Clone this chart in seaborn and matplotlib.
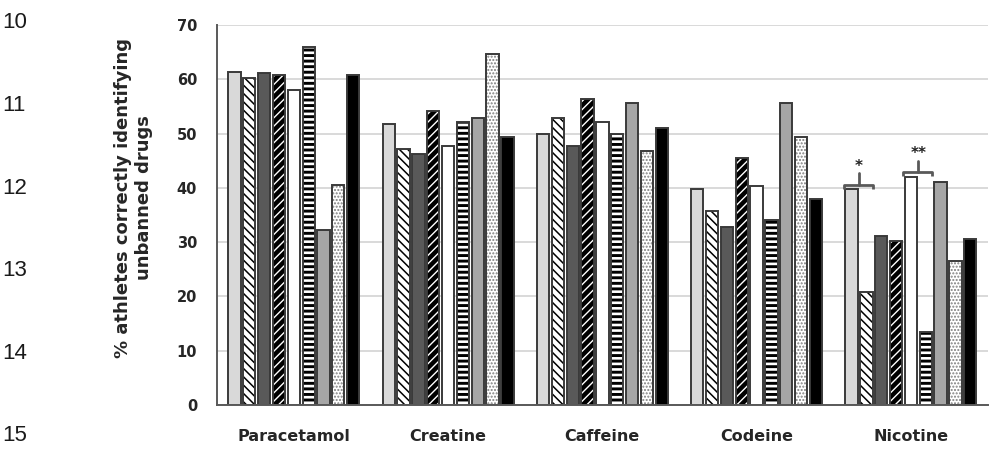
import numpy as np
import pandas as pd
import matplotlib
matplotlib.use("Agg")
import matplotlib.pyplot as plt
from matplotlib.patches import Rectangle
import seaborn as sns

# ---- data -----------------------------------------------------------------
drugs = ["Paracetamol", "Creatine", "Caffeine", "Codeine", "Nicotine"]
groups = ["G1", "G2", "G3", "G4", "G5", "G6", "G7", "G8", "G9"]

g1 = [61.4, 51.7, 50.0, 39.8, 39.7]
g2 = [60.2, 47.1, 52.8, 35.7, 20.8]
g3 = [61.1, 46.2, 47.7, 32.8, 31.2]
g4 = [60.8, 54.2, 56.4, 45.5, 30.3]
g5 = [58.0, 47.7, 52.2, 40.4, 42.0]
g6 = [65.9, 52.2, 50.0, 34.1, 13.4]
g7 = [32.2, 52.8, 55.7, 55.7, 41.0]
g8 = [40.5, 64.7, 46.8, 49.4, 26.5]
g9 = [60.8, 49.4, 51.0, 37.9, 30.6]

y_ticks = [0, 10, 20, 30, 40, 50, 60, 70]
y_label = "% athletes correctly identifying\nunbanned drugs"
line_numbers = ["10", "11", "12", "13", "14", "15"]

# significance marks in the Nicotine group: (first bar, second bar, label)
sig_marks = [(0, 1, "*"), (4, 5, "**")]

series = [g1, g2, g3, g4, g5, g6, g7, g8, g9]
df = pd.DataFrame({
    "drug": np.repeat([drugs], len(groups), axis=0).ravel(),
    "group": np.repeat(groups, len(drugs)),
    "pct": np.concatenate(series),
})

# fill colour, hatch pattern, hatch colour, hatch line width
styles = [
    ("#d9d9d9", None, None, 1.0),
    ("white", "\\\\\\\\", "black", 1.1),
    ("#595959", None, None, 1.0),
    ("black", "////", "white", 1.0),
    ("white", None, None, 1.0),
    ("black", "---", "white", 1.9),
    ("#a6a6a6", None, None, 1.0),
    ("white", ".....", "#7f7f7f", 1.0),
    ("black", None, None, 1.0),
]

# ---- figure -----------------------------------------------------------------
sns.set_theme(style="white")
plt.rcParams["font.family"] = ["DejaVu Sans"]

fig = plt.figure(figsize=(9.94, 4.61), dpi=100)
ax = fig.add_axes([0.218, 0.1215, 0.776, 0.8243])

sns.barplot(
    data=df, x="drug", y="pct", hue="group", order=drugs, hue_order=groups,
    palette=[s[0] for s in styles], width=0.865, gap=0.17,
    linewidth=0, saturation=1, errorbar=None, legend=False, ax=ax,
)

outline = "#3a3a3a"
for cont, (face, hatch, hcol, hlw) in zip(ax.containers, styles):
    for p in cont.patches:
        p.set_facecolor(face)
        if hatch:
            p.set_hatch(hatch)
            p.set_edgecolor(hcol)
            if hasattr(p, "set_hatch_linewidth"):
                p.set_hatch_linewidth(hlw)
        p.set_linewidth(0)
        ax.add_patch(Rectangle(p.get_xy(), p.get_width(), p.get_height(),
                               fill=False, edgecolor=outline, linewidth=1.4,
                               zorder=p.get_zorder() + 0.1))

# brackets with significance stars above the Nicotine bars
gi = drugs.index("Nicotine")
brace_col = "#595959"
for a, b, label in sig_marks:
    pa = ax.containers[a].patches[gi]
    pb = ax.containers[b].patches[gi]
    x0 = pa.get_x() - 0.15 * pa.get_width()
    x1 = pb.get_x() + pb.get_width() * 1.0
    top = pa.get_height()
    y_line = top + 0.9
    xm = (pa.get_x() + pa.get_width() + pb.get_x()) / 2
    ax.plot([x0, x0, x1, x1], [top + 0.1, y_line, y_line, top + 0.1],
            color=brace_col, lw=2, solid_capstyle="butt", zorder=5)
    ax.plot([xm, xm], [y_line, y_line + 2.1], color=brace_col, lw=2, zorder=5)
    ax.text(xm, y_line + 3.4, label, ha="center", va="center",
            fontsize=11, fontweight="bold", color="#222222")

# ---- axes styling ---------------------------------------------------------
ax.set_ylim(0, 70)
ax.set_xlim(-0.5, len(drugs) - 0.5)
ax.set_yticks(y_ticks)
ax.set_yticklabels([str(t) for t in y_ticks], fontsize=10.5, fontweight="bold",
                   color="#262626")
ax.set_xticks(range(len(drugs)))
ax.set_xticklabels(drugs, fontsize=11.5, fontweight="bold", color="#262626")
ax.tick_params(axis="x", length=0, pad=17)
ax.tick_params(axis="y", length=0, pad=14)
ax.set_xlabel("")
ax.set_ylabel(y_label, fontsize=13, fontweight="bold", color="#262626",
              linespacing=1.25)
ax.yaxis.set_label_coords(-0.082, 0.545)
ax.yaxis.grid(True, color="#d9d9d9", linewidth=1.4)
ax.set_axisbelow(True)
for side in ("top", "right"):
    ax.spines[side].set_visible(False)
for side in ("left", "bottom"):
    ax.spines[side].set_color("#595959")
    ax.spines[side].set_linewidth(1.4)

# manuscript line numbers in the left margin
for i, num in enumerate(line_numbers):
    fig.text(0.002, 1 - (23 + 82.5 * i) / 461, num, ha="left", va="center",
             fontsize=16, family=["Liberation Sans", "DejaVu Sans"],
             color="#1a1a1a")

fig.savefig("out.png", dpi=100)
